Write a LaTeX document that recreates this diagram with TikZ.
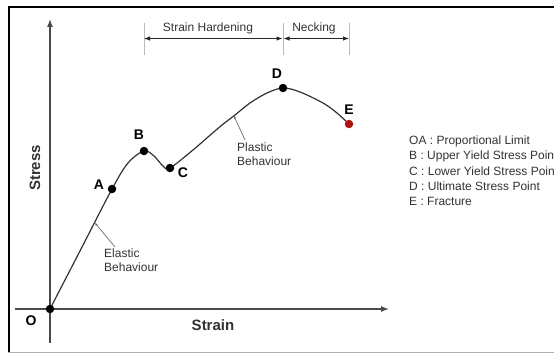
\documentclass[tikz,border=0pt]{standalone}
\usepackage{fontspec}
\setmainfont{Liberation Sans}
\usetikzlibrary{arrows.meta}
\definecolor{axisc}{HTML}{4A4A4A}
\definecolor{curvec}{HTML}{333333}
\definecolor{ptrc}{HTML}{6A6A6A}
\definecolor{dimc}{HTML}{BBBBBB}
\definecolor{txtc}{HTML}{333333}
\definecolor{redpt}{HTML}{B01212}
\tikzset{
  axis/.style={draw=axisc, line width=1.3pt, -{Latex[length=8pt,width=6pt]}},
  curveline/.style={draw=curvec, line width=1.2pt},
  dot/.style={circle, fill=black, inner sep=0pt, minimum size=8.5pt},
  reddot/.style={circle, fill=redpt, inner sep=0pt, minimum size=8.5pt},
  ptlabel/.style={font=\fontsize{14}{16}\selectfont\bfseries, text=black, inner sep=0pt},
  axlabel/.style={font=\fontsize{15}{17}\selectfont\bfseries, text=txtc, inner sep=0pt},
  small/.style={font=\fontsize{12}{14}\selectfont, text=txtc, inner sep=0pt},
  ptr/.style={draw=ptrc, line width=0.7pt, -{Stealth[length=3pt,width=2.5pt]}},
  dimline/.style={draw=dimc, line width=1pt},
  dimarrow/.style={draw=black!85, line width=1pt, {Latex[length=6pt,width=4.5pt]}-{Latex[length=6pt,width=4.5pt]}},
}
\begin{document}
\begin{tikzpicture}[x=1pt,y=-1pt]
\useasboundingbox (0,0) rectangle (554,353);
\clip (0,0) rectangle (554,353);
\fill[white] (0,0) rectangle (554,353);
% frame
\draw[line width=2pt, black] (8,7.5) -- (554,7.5);
\draw[line width=2pt, black] (9,6.5) -- (9,352.5);
\draw[line width=1.3pt, black!30] (8,352.5) -- (554,352.5);
% axes
\coordinate (ybot) at (50,343);
\coordinate (ytop) at (50,19);
\coordinate (xleft) at (15,309);
\coordinate (xright) at (389,309);
\draw[axis] (ybot) -- (ytop);
\draw[axis] (xleft) -- (xright);
% curve
\draw[curveline] plot[smooth, tension=0.55] coordinates {
  (50,309) (81,249) (112,189) (128,163) (144,151) (154,156) (163,166) (170,168)
  (193,150) (208,137) (222,125) (235,115) (250,103) (267,93) (283,88)
  (300,92) (323,103) (337,113) (349,124)};
% points
\node[dot] (O) at (50,309) {};
\node[dot] (A) at (112,189) {};
\node[dot] (B) at (144,151) {};
\node[dot] (C) at (170,168) {};
\node[dot] (D) at (283,88) {};
\node[reddot] (E) at (349,124) {};
% point labels
\node[ptlabel] (Ol) at (31,321) {O};
\node[ptlabel] (Al) at (99,185) {A};
\node[ptlabel] (Bl) at (139,135) {B};
\node[ptlabel] (Cl) at (183,173) {C};
\node[ptlabel] (Dl) at (277,74) {D};
\node[ptlabel] (El) at (349,110) {E};
% axis labels
\node[axlabel] (strain) at (213,325) {Strain};
\node[axlabel, rotate=90] (stress) at (35,168) {Stress};
% behaviour annotations
\node[small, anchor=west] (el1) at (104,253) {Elastic};
\node[small, anchor=west] (el2) at (104,267.5) {Behaviour};
\coordinate (ep1) at (115,247);
\coordinate (ep0) at (95,223);
\draw[ptr] (ep1) -- (ep0);
\node[small, anchor=west] (pl1) at (237,147) {Plastic};
\node[small, anchor=west] (pl2) at (237,161.5) {Behaviour};
\coordinate (pp1) at (245,140);
\coordinate (pp0) at (234,116);
\draw[ptr] (pp1) -- (pp0);
% dimension lines
\coordinate (d1t) at (144,23); \coordinate (d1b) at (144,55);
\coordinate (d2t) at (283,23); \coordinate (d2b) at (283,55);
\coordinate (d3t) at (349,23); \coordinate (d3b) at (349,55);
\draw[dimline] (d1t) -- (d1b);
\draw[dimline] (d2t) -- (d2b);
\draw[dimline] (d3t) -- (d3b);
\coordinate (a1) at (144,38.5);
\coordinate (a2) at (282.5,38.5);
\coordinate (a3) at (283.5,38.5);
\coordinate (a4) at (349,38.5);
\draw[dimarrow] (a1) -- (a2);
\draw[dimarrow] (a3) -- (a4);
\node[small] (sh) at (208,28) {Strain Hardening};
\node[small] (nk) at (314,28) {Necking};
% legend
\node[small, anchor=west] (lg1) at (409,141) {OA : Proportional Limit};
\node[small, anchor=west] (lg2) at (409,156) {B : Upper Yield Stress Point};
\node[small, anchor=west] (lg3) at (409,171) {C : Lower Yield Stress Point};
\node[small, anchor=west] (lg4) at (409,186) {D : Ultimate Stress Point};
\node[small, anchor=west] (lg5) at (409,201.5) {E : Fracture};
\end{tikzpicture}
\end{document}
